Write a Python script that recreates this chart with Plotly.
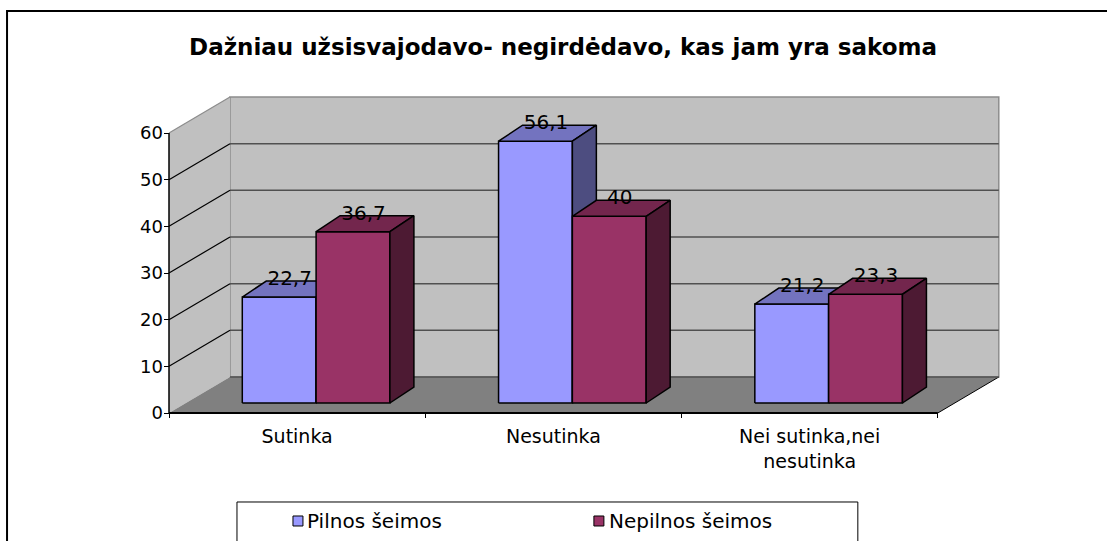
import plotly.graph_objects as go

# ---------------- data ----------------
title_text = "Dažniau užsisvajodavo- negirdėdavo, kas jam yra sakoma"
categories = ["Sutinka", "Nesutinka", "Nei sutinka,nei<br>nesutinka"]
series_names = ["Pilnos šeimos", "Nepilnos šeimos"]
pilnos = [22.7, 56.1, 21.2]
nepilnos = [36.7, 40.0, 23.3]
y_ticks = [0, 10, 20, 30, 40, 50, 60]

# ---------------- styling / geometry ----------------
W, H = 1107, 541
FONT = "DejaVu Sans"
PXX = 256.33          # px per category unit
PXY = 4.667           # px per value unit
X0, Y0 = 169, 413     # pixel position of the (0,0) corner
xr = [-5 / PXX, 3.27]
yr = [-5 / PXY, 69.0]
l = X0 + xr[0] * PXX
plot_w = (xr[1] - xr[0]) * PXX
r = W - l - plot_w
t = Y0 - yr[1] * PXY
plot_h = (yr[1] - yr[0]) * PXY
b = H - t - plot_h

WDX, WDY = 61 / PXX, 36 / PXY        # wall depth
BASE = 10 / PXY                      # bar front plane lift
BDX, BDY = 24 / PXX, 16 / PXY        # bar depth
BAR_START, BAR_W = 0.286, 0.288
YMAX = y_ticks[-1]
NCAT = len(categories)

colors = {
    "Pilnos": dict(front="#9999FF", top="#7373BF", side="#4D4D80"),
    "Nepilnos": dict(front="#993366", top="#73264D", side="#4D1A33"),
}
series = [(series_names[0], pilnos, colors["Pilnos"]),
          (series_names[1], nepilnos, colors["Nepilnos"])]


def px2paper(px, py):
    return (px - l) / plot_w, 1 - (py - t) / plot_h


fig = go.Figure()

# ---------------- walls, floor, gridlines (shapes, below) ----------------
shapes = []
shapes.append(dict(type="rect", xref="x", yref="y", layer="below",
                   x0=WDX, x1=NCAT + WDX, y0=WDY, y1=YMAX + WDY,
                   fillcolor="#C0C0C0", line=dict(color="#8C8C8C", width=1.5)))
shapes.append(dict(type="path", xref="x", yref="y", layer="below",
                   path=f"M 0,0 L 0,{YMAX} L {WDX},{YMAX + WDY} L {WDX},{WDY} Z",
                   fillcolor="#C0C0C0", line=dict(width=0)))
shapes.append(dict(type="path", xref="x", yref="y", layer="below",
                   path=f"M 0,0 L {NCAT},0 L {NCAT + WDX},{WDY} L {WDX},{WDY} Z",
                   fillcolor="#808080", line=dict(width=0)))
shapes.append(dict(type="line", xref="x", yref="y", layer="below",
                   x0=NCAT, y0=0, x1=NCAT + WDX, y1=WDY,
                   line=dict(color="black", width=1)))
for v in y_ticks[:-1]:
    shapes.append(dict(type="line", xref="x", yref="y", layer="below",
                       x0=WDX, x1=NCAT + WDX, y0=v + WDY, y1=v + WDY,
                       line=dict(color="#505050", width=1.5)))
for v in y_ticks[1:]:
    col = "#8C8C8C" if v == YMAX else "black"
    shapes.append(dict(type="line", xref="x", yref="y", layer="below",
                       x0=0, y0=v, x1=WDX, y1=v + WDY,
                       line=dict(color=col, width=1.2)))
shapes.append(dict(type="line", xref="x", yref="y", x0=0, x1=0, y0=0, y1=YMAX,
                   line=dict(color="black", width=1.5)))
shapes.append(dict(type="line", xref="x", yref="y", x0=0, x1=NCAT, y0=0, y1=0,
                   line=dict(color="black", width=2)))

# ---------------- bars as 3D prisms ----------------
for s_idx, (name, vals, col) in enumerate(series):
    fx, fy, tx, ty, sx, sy = [], [], [], [], [], []
    for i, v in enumerate(vals):
        x0 = i + BAR_START + s_idx * BAR_W
        x1 = x0 + BAR_W
        y0 = BASE
        y1 = BASE + v
        fx += [x0, x1, x1, x0, x0, None]
        fy += [y0, y0, y1, y1, y0, None]
        tx += [x0, x1, x1 + BDX, x0 + BDX, x0, None]
        ty += [y1, y1, y1 + BDY, y1 + BDY, y1, None]
        sx += [x1, x1 + BDX, x1 + BDX, x1, x1, None]
        sy += [y0, y0 + BDY, y1 + BDY, y1, y0, None]
    for xs, ys, c in ((fx, fy, col["front"]), (tx, ty, col["top"]), (sx, sy, col["side"])):
        fig.add_trace(go.Scatter(x=xs, y=ys, mode="lines", fill="toself",
                                 fillcolor=c, line=dict(color="black", width=1.5),
                                 hoverinfo="skip", showlegend=False, name=name))

lx, ly, lt = [], [], []
for s_idx, (name, vals, col) in enumerate(series):
    for i, v in enumerate(vals):
        xc = i + BAR_START + s_idx * BAR_W + BAR_W / 2
        lx.append(xc + 10.5 / PXX)
        ly.append(BASE + v + BDY + 1 / PXY)
        lt.append(f"{v:g}".replace(".", ","))
fig.add_trace(go.Scatter(x=lx, y=ly, mode="text", text=lt,
                         textposition="middle center",
                         textfont=dict(family=FONT, size=20, color="black"),
                         hoverinfo="skip", showlegend=False, cliponaxis=False))

# ---------------- custom legend ----------------
lb0 = px2paper(237, 502)
lb1 = px2paper(858, 580)
shapes.append(dict(type="rect", xref="paper", yref="paper",
                   x0=lb0[0], y0=lb0[1], x1=lb1[0], y1=lb1[1],
                   line=dict(color="black", width=1), fillcolor="rgba(0,0,0,0)"))
annotations = []
for (name, vals, col), sq_x, tx_x in zip(series, [293, 594], [305, 607]):
    a = px2paper(sq_x, 516)
    c = px2paper(sq_x + 10, 526)
    shapes.append(dict(type="rect", xref="paper", yref="paper",
                       x0=a[0], y0=a[1], x1=c[0], y1=c[1],
                       fillcolor=col["front"], line=dict(color="black", width=1)))
    p = px2paper(tx_x, 521)
    annotations.append(dict(xref="paper", yref="paper", x=p[0], y=p[1],
                            xanchor="left", yanchor="middle", showarrow=False,
                            text=name, font=dict(family=FONT, size=20, color="black")))

f0 = px2paper(7, 11)
f1 = px2paper(1130, 600)
shapes.append(dict(type="rect", xref="paper", yref="paper",
                   x0=f0[0], y0=f0[1], x1=f1[0], y1=f1[1],
                   line=dict(color="black", width=2), fillcolor="rgba(0,0,0,0)"))

fig.update_layout(
    width=W, height=H,
    margin=dict(l=l, r=r, t=t, b=b, autoexpand=False),
    paper_bgcolor="white", plot_bgcolor="white",
    showlegend=False,
    shapes=shapes, annotations=annotations,
    title=dict(text=f"<b>{title_text}</b>", x=563 / W, xref="container",
               xanchor="center", y=1 - 47 / H, yref="container", yanchor="middle",
               font=dict(family=FONT, size=23, color="black")),
    xaxis=dict(range=xr, tickmode="array", tickvals=[i + 0.5 for i in range(NCAT)],
               ticktext=categories, ticks="", showgrid=False, zeroline=False,
               showline=False, automargin=False, ticklabelstandoff=5,
               tickfont=dict(family=FONT, size=19, color="black"),
               minor=dict(tickmode="array", tickvals=list(range(NCAT + 1)),
                          ticks="inside", ticklen=5, tickcolor="black",
                          tickwidth=1, showgrid=False)),
    yaxis=dict(range=yr, tickmode="array", tickvals=y_ticks, ticks="inside",
               ticklen=5, tickcolor="black", tickwidth=1, showgrid=False,
               zeroline=False, showline=False, automargin=False,
               tickfont=dict(family=FONT, size=18, color="black")),
)

fig.write_html("out.html", config={"displayModeBar": False},
               post_script="document.body.style.margin='0px';")
